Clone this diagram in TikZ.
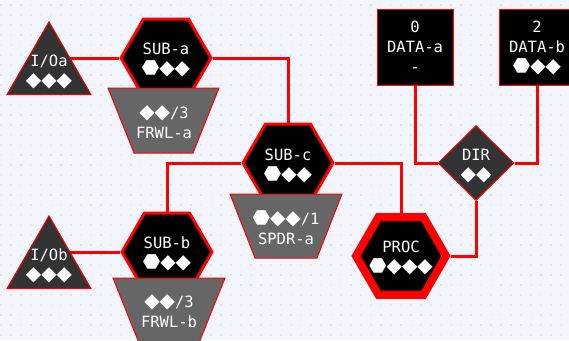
\documentclass[tikz,border=0pt]{standalone}
\usepackage{fontspec}
\setmonofont{DejaVu Sans Mono}
\newfontfamily\symf{DejaVu Sans}
\usetikzlibrary{shapes.geometric}
\definecolor{bgc}{HTML}{F3F5FC}
\definecolor{redc}{HTML}{FF0000}
\definecolor{dk}{HTML}{333333}
\definecolor{md}{HTML}{666666}
\newcommand{\hx}{{\symf\fontsize{20}{19}\selectfont ⬣}}
\newcommand{\dm}{{\symf\fontsize{20}{19}\selectfont ◆}}
\pgfdeclarelayer{bglayer}
\pgfdeclarelayer{connlayer}
\pgfsetlayers{bglayer,connlayer,main}
\begin{document}
\begin{tikzpicture}[x=1pt,y=-1pt,
  hexa/.style={regular polygon, regular polygon sides=6, minimum size=90pt, inner sep=0pt, fill=black, draw=redc, line width=3pt},
  hexproc/.style={hexa, line width=8pt},
  tri/.style={regular polygon, regular polygon sides=3, minimum size=97pt, inner sep=0pt, fill=dk, draw=redc, line width=1pt},
  dia/.style={diamond, minimum width=76pt, minimum height=75pt, inner sep=0pt, fill=dk, draw=redc, line width=1pt},
  databox/.style={rectangle, minimum width=76pt, minimum height=76pt, inner sep=0pt, fill=black, draw=redc, line width=1pt},
  trap/.style={fill=md, draw=redc, line width=1pt},
  txt/.style={text=white, font=\ttfamily\fontsize{15.5}{20}\selectfont, align=center, inner sep=0pt},
  conn/.style={draw=redc, line width=3pt}
]
\useasboundingbox (0,0) rectangle (569,340);
\begin{pgfonlayer}{bglayer}
  \fill[bgc] (0,0) rectangle (569,340);
  \pgfmathsetseed{7}
  \foreach \xx in {1,11,...,561} {
    \foreach \yy in {5,15,...,335} {
      \pgfmathsetmacro{\op}{0.08+0.25*rnd}
      \fill[black, opacity=\op] (\xx,\yy) circle[radius=0.6pt];
    }
  }
\end{pgfonlayer}

% hexagons
\node[hexa] (suba) at (166,58) {};
\node[hexa] (subc) at (288,163) {};
\node[hexa] (subb) at (167,252) {};
\node[hexproc] (proc) at (401,256) {};

% trapezoids (drawn over hexagons)
\filldraw[trap] (108,88) -- (219,88) -- (193,153) -- (134,153) -- cycle;
\filldraw[trap] (230,194) -- (342,194) -- (317,258) -- (255,258) -- cycle;
\filldraw[trap] (113,278) -- (225,278) -- (199,343) -- (139,343) -- cycle;

% triangles
\node[tri] (ioa) at (49,70.3) {};
\node[tri] (iob) at (49,264.3) {};

% diamond and data boxes
\node[dia] (dir) at (476,163) {};
\node[databox] (dataa) at (415,47) {};
\node[databox] (datab) at (537,47) {};

% texts
\node[txt] (suba-t) at (166,60) {SUB-a\\\hx\dm\dm};
\node[txt] (subc-t) at (288,166) {SUB-c\\\hx\dm\dm};
\node[txt] (subb-t) at (167,254) {SUB-b\\\hx\dm\dm};
\node[txt] (proc-t) at (401,258) {PROC\\\hx\dm\dm\dm};
\node[txt] (frwla-t) at (164,122) {\dm\dm/3\\FRWL-a};
\node[txt] (spdra-t) at (286,228) {\hx\dm\dm/1\\SPDR-a};
\node[txt] (frwlb-t) at (169,311.5) {\dm\dm/3\\FRWL-b};
\node[txt] (ioa-t) at (49,72) {I/Oa\\\dm\dm\dm};
\node[txt] (iob-t) at (49,266) {I/Ob\\\dm\dm\dm};
\node[txt] (dir-t) at (476,166) {DIR\\\dm\dm};
\node[txt] (dataa-t) at (415,47) {0\\DATA-a\\-};
\node[txt] (datab-t) at (537,48) {2\\DATA-b\\\hx\dm\dm};

% connectors
\begin{pgfonlayer}{connlayer}
  \draw[conn] (suba.west) -- (suba.west -| ioa.center);
  \draw[conn] (subb.west) -- (subb.west -| iob.center);
  \draw[conn] (suba.east) -| (subc.north);
  \draw[conn] (subc.west) -| (subb.north);
  \draw[conn] (subc.east) -| (proc.north);
  \draw[conn] (dir.south) |- (proc.east);
  \draw[conn] (dataa.south) |- (dir.west);
  \draw[conn] (datab.south) |- (dir.east);
\end{pgfonlayer}
\end{tikzpicture}
\end{document}
